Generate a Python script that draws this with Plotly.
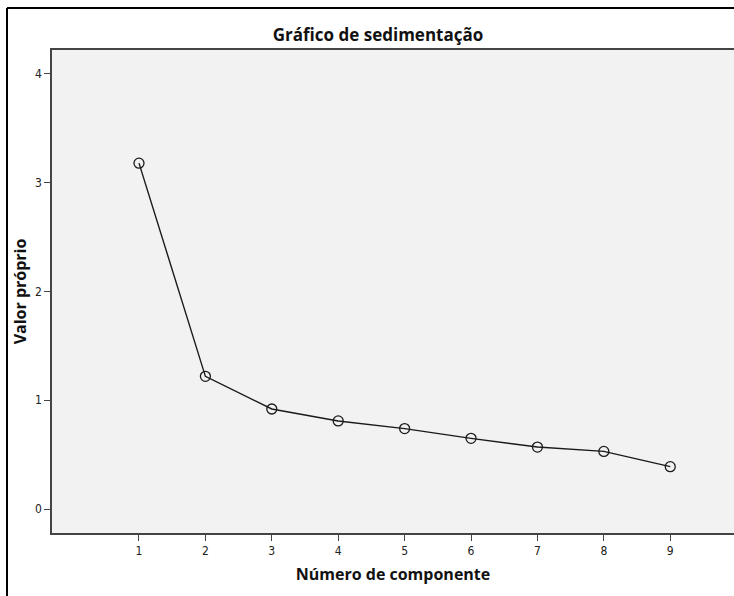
import plotly.graph_objects as go

componentes = [1, 2, 3, 4, 5, 6, 7, 8, 9]
valores_proprios = [3.18, 1.22, 0.92, 0.81, 0.74, 0.65, 0.57, 0.53, 0.39]

W, H = 734, 596
L, R, T, B = 52, 0, 50, 63
pw, ph = W - L - R, H - T - B

fig = go.Figure()
fig.add_trace(go.Scatter(
    x=componentes, y=valores_proprios,
    mode="lines+markers",
    line=dict(color="#1a1a1a", width=1.4),
    marker=dict(symbol="circle-open", size=10, color="#1a1a1a", line=dict(width=1.3)),
    showlegend=False,
))

# moldura exterior (canto superior esquerdo)
fx = (7 - L) / pw
fy = 1 + (T - 8) / ph
fig.add_shape(type="line", xref="paper", yref="paper",
              x0=fx, y0=-B / ph, x1=fx, y1=fy, line=dict(color="black", width=2))
fig.add_shape(type="line", xref="paper", yref="paper",
              x0=fx, y0=fy, x1=1, y1=fy, line=dict(color="black", width=2))

tick_font = dict(family="Liberation Sans Narrow, DejaVu Sans Condensed, sans-serif", size=12, color="#222")
title_font = dict(family="Open Sans, DejaVu Sans, sans-serif", size=16, color="#111")
fig.update_layout(
    width=W, height=H,
    margin=dict(l=L, r=R, t=T, b=B),
    paper_bgcolor="white",
    plot_bgcolor="#f2f2f2",
    title=dict(text="<b>Gráfico de sedimentação</b>", x=378 / W, xanchor="center",
               y=1 - 35 / H, yanchor="middle",
               font=dict(family="Open Sans, DejaVu Sans, sans-serif", size=17, color="#111")),
)
fig.update_xaxes(
    range=[-0.31, 9.96], tickvals=componentes, showgrid=False, zeroline=False,
    showline=True, linecolor="#444", linewidth=1.5, mirror=True,
    ticks="outside", ticklen=6, tickcolor="#444", tickfont=tick_font,
    title=dict(text="<b>Número de componente</b>", standoff=12, font=title_font),
)
fig.update_yaxes(
    range=[-0.22, 4.22], tickvals=[0, 1, 2, 3, 4], showgrid=False, zeroline=False,
    showline=True, linecolor="#444", linewidth=1.5,
    ticks="outside", ticklen=6, tickcolor="#444", tickfont=tick_font,
    title=dict(text="<b>Valor próprio</b>", standoff=4, font=title_font),
)

fig.write_html("out.html", config={"displayModeBar": False},
               post_script="document.body.style.margin='0';document.body.style.overflow='hidden';")
